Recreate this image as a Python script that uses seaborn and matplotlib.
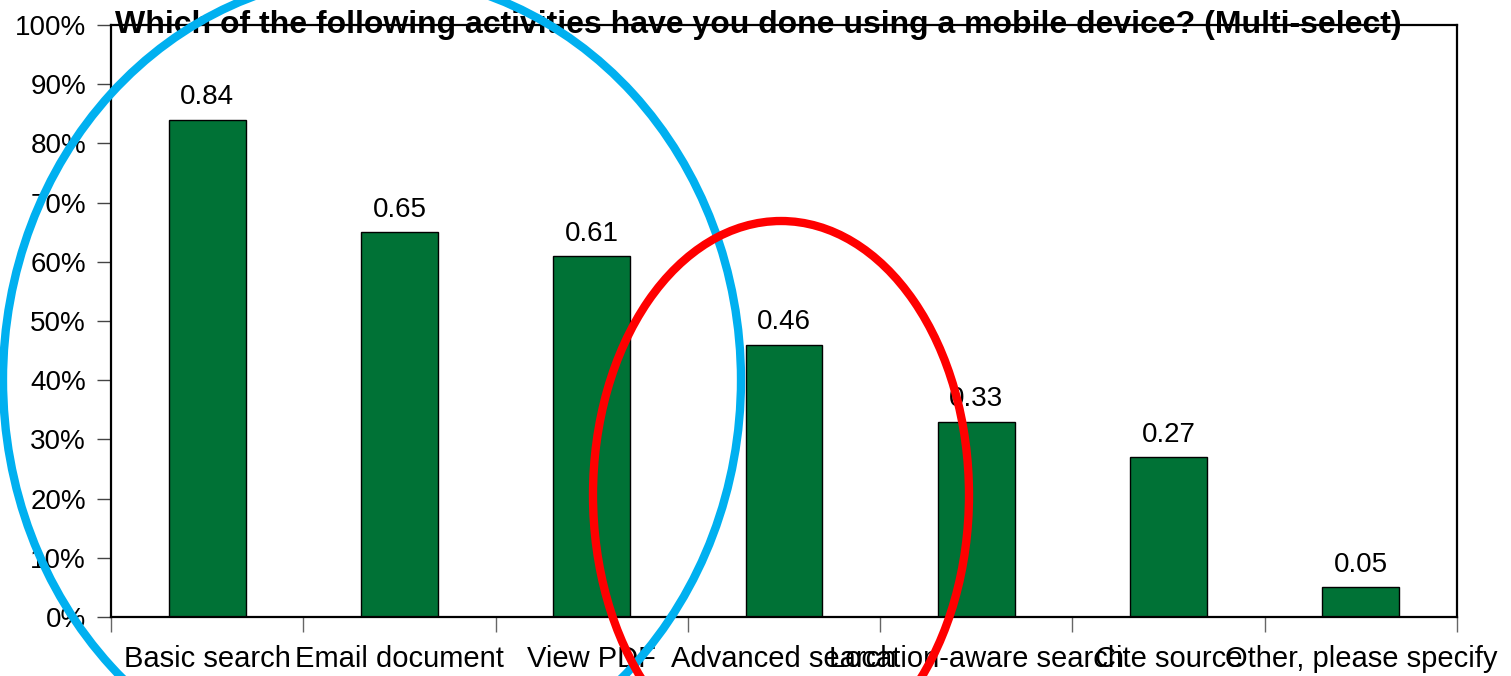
import numpy as np
import pandas as pd
import seaborn as sns
import matplotlib
matplotlib.use("Agg")
import matplotlib.pyplot as plt
from matplotlib.patches import Ellipse
from matplotlib.ticker import PercentFormatter, FixedLocator

# datos del gráfico
actividades = ["Basic search", "Email document", "View PDF", "Advanced search",
               "Location-aware search", "Cite source", "Other, please specify"]
valores = [0.84, 0.65, 0.61, 0.46, 0.33, 0.27, 0.05]
etiquetas = ["0.84", "0.65", "0.61", "0.46", "0.33", "0.27", "0.05"]
titulo = "Which of the following activities have you done using a mobile device? (Multi-select)"

sns.set_style("white")
plt.rcParams["font.family"] = ["Liberation Sans", "DejaVu Sans"]
plt.rcParams["text.color"] = "black"
plt.rcParams["xtick.labelcolor"] = "black"
plt.rcParams["ytick.labelcolor"] = "black"

data = pd.DataFrame({"actividad": actividades, "valor": valores})

fig = plt.figure(figsize=(15.11, 6.76), dpi=100)
ax = fig.add_axes([111 / 1511, 59 / 676, 1346 / 1511, 592 / 676])

sns.barplot(data=data, x="actividad", y="valor", color="#007236", saturation=1,
            width=0.4, edgecolor="black", linewidth=1, ax=ax)

ax.set_xlim(-0.5, len(actividades) - 0.5)
ax.set_ylim(0, 1)
ax.set_xlabel("")
ax.set_ylabel("")

# eje y en porcentaje
ax.set_yticks(np.arange(0, 1.01, 0.1))
ax.yaxis.set_major_formatter(PercentFormatter(1.0, decimals=0))
ax.tick_params(axis="y", direction="out", length=10, width=1, color="#444444",
               pad=8, labelsize=20, left=True)

# marcas del eje x entre categorías
ax.xaxis.set_minor_locator(FixedLocator(np.arange(-0.5, len(actividades), 1)))
ax.tick_params(axis="x", which="minor", direction="out", length=11, width=1,
               color="#666666", bottom=True)
ax.tick_params(axis="x", which="major", length=0, pad=20, labelsize=21)

for s in ax.spines.values():
    s.set_visible(True)
    s.set_color("black")
    s.set_linewidth(1.6)

# etiquetas de valor sobre las barras
for i, (v, t) in enumerate(zip(valores, etiquetas)):
    ax.annotate(t, (i, v), xytext=(0, 11), textcoords="offset points",
                ha="center", va="baseline", fontsize=20, color="black")

fig.text(758 / 1511, (676 - 33) / 676, titulo, ha="center", va="baseline",
         fontsize=23, fontweight="bold", color="black", zorder=5)

# elipses de anotación (en pulgadas, 100 px = 1 in)
azul = Ellipse((3.72, 2.96), 7.38, 8.1, fill=False, edgecolor="#00B0F0",
               linewidth=6, transform=fig.dpi_scale_trans, zorder=10)
rojo = Ellipse((7.81, 1.81), 3.76, 5.48, fill=False, edgecolor="#FF0000",
               linewidth=6, transform=fig.dpi_scale_trans, zorder=11)
fig.add_artist(azul)
fig.add_artist(rojo)

fig.savefig("out.png", dpi=100)
